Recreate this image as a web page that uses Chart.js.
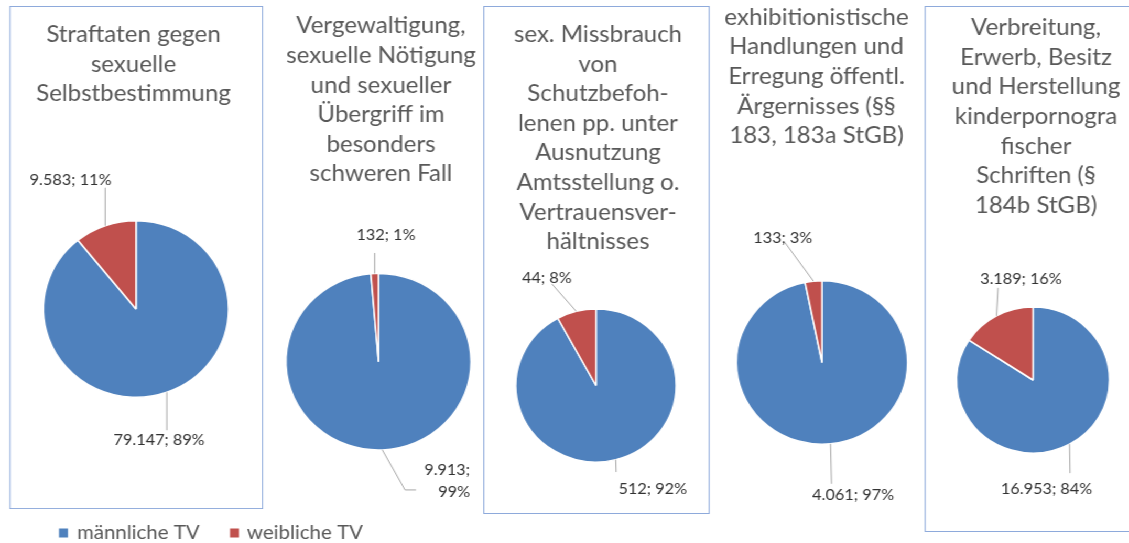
<!DOCTYPE html>
<html lang="de">
<head>
<meta charset="utf-8">
<title>Tatverdächtige nach Geschlecht</title>
<script src="https://cdn.jsdelivr.net/npm/chart.js@4.4.1/dist/chart.umd.min.js"></script>
<style>
  html, body { margin: 0; padding: 0; background: #fff; overflow: hidden; }
  /* the source picture is slightly wider than tall, so the whole stage is stretched a bit */
  #stage { position: relative; width: 1077px; height: 543px; transform: scaleX(1.0483); transform-origin: 0 0; }
  #stage canvas { position: absolute; left: 0; top: 0; }
  .frame { position: absolute; border: 1px solid #8eaadb; box-sizing: border-box; }
</style>
</head>
<body>
<div id="stage"></div>
<script>
// ---- data ----
const seriesNames = ['männliche TV', 'weibliche TV'];
const titles = [
    ['Straftaten gegen', 'sexuelle', 'Selbstbestimmung'],
    ['Vergewaltigung,', 'sexuelle Nötigung', 'und sexueller', 'Übergriff im', 'besonders', 'schweren Fall'],
    ['sex. Missbrauch', 'von', 'Schutzbefoh-', 'lenen pp. unter', 'Ausnutzung', 'Amtsstellung o.', 'Vertrauensver-', 'hältnisses'],
    ['exhibitionistische', 'Handlungen und', 'Erregung öffentl.', 'Ärgernisses (§§', '183, 183a StGB)'],
    ['Verbreitung,', 'Erwerb, Besitz', 'und Herstellung', 'kinderpornogra', 'fischer', 'Schriften (§', '184b StGB)']
];
const maleTV = [79147, 9913, 512, 4061, 16953];
const femaleTV = [9583, 132, 44, 133, 3189];
const colors = ['#4f81bd', '#c0504d'];

// ---- layout (picture pixels, x is divided by SX) ----
const W = 1077, H = 543;
const SX = 1129 / W;

const pies = [
    {cx: 136, cy: 309, r: 88.3, tx: 133.5, ty: 34.6},
    {cx: 378.5, cy: 361.7, r: 88.3, tx: 381, ty: 26},
    {cx: 596, cy: 385.5, r: 76.5, tx: 598, ty: 34.6},
    {cx: 822, cy: 362.5, r: 81.7, tx: 816.5, ty: 17.3},
    {cx: 1033, cy: 380, r: 73, tx: 1036, ty: 27.7}
];

// leader line points and text position, relative to the slice edge at mid angle
const labelSpots = [
    [{lead: [[0, 38]], text: [-7.7, 48]}, {lead: [[0, -38]], text: [-34.6, -46]}],
    [{lead: [[22.7, 40], [33.7, 40]], text: [87.7, 20], align: 'right', split: true}, {lead: [[0, -20.5]], text: [11.3, -38.5]}],
    [{lead: [[0.4, 12.4]], text: [37, 29.4]}, {lead: [[-24.4, -27.4]], text: [-29.4, -33.4]}],
    [{lead: [[1, 40]], text: [22.6, 51.7]}, {lead: [[-28.6, -38.7]], text: [-30.6, -43.7]}],
    [{lead: [[0.5, 29]], text: [-23, 44.8]}, {lead: [[1.5, -28]], text: [24.5, -36.8]}]
];

const frames = [
    {x1: 9.5, y1: 6, x2: 263.5, y2: 509},
    {x1: 483, y1: 6, x2: 709.5, y2: 514},
    {x1: 925, y1: 6, x2: 1140, y2: 532}
];

function formatNumber(v) {
    return String(v).replace(/\B(?=(\d{3})+(?!\d))/g, '.');
}

const stage = document.getElementById('stage');

frames.forEach(f => {
    const d = document.createElement('div');
    d.className = 'frame';
    d.style.left = (f.x1 / SX) + 'px';
    d.style.top = f.y1 + 'px';
    d.style.width = ((f.x2 - f.x1) / SX) + 'px';
    d.style.height = (f.y2 - f.y1) + 'px';
    stage.appendChild(d);
});

// titles, data labels with leader lines, and the shared legend
const panelText = {
    id: 'panelText',
    afterDraw(chart, args, opts) {
        const ctx = chart.ctx;
        ctx.save();

        ctx.fillStyle = '#595959';
        ctx.font = '23px Lato';
        ctx.textAlign = 'center';
        ctx.textBaseline = 'middle';
        opts.title.forEach((line, k) => {
            ctx.fillText(line, opts.tx / SX, opts.ty + k * 29.6);
        });

        const meta = chart.getDatasetMeta(0);
        const values = chart.data.datasets[0].data;
        const total = values.reduce((a, b) => a + b, 0);
        ctx.font = '15.5px Lato';
        meta.data.forEach((arc, i) => {
            const p = arc.getProps(['x', 'y', 'startAngle', 'endAngle', 'outerRadius'], true);
            const mid = (p.startAngle + p.endAngle) / 2;
            const ex = p.x + Math.cos(mid) * p.outerRadius;
            const ey = p.y + Math.sin(mid) * p.outerRadius;
            const spot = opts.spots[i];

            ctx.beginPath();
            ctx.moveTo(ex, ey);
            spot.lead.forEach(q => ctx.lineTo(ex + q[0] / SX, ey + q[1]));
            ctx.strokeStyle = '#a6a6a6';
            ctx.lineWidth = 1;
            ctx.stroke();

            const num = formatNumber(values[i]);
            const pct = Math.round(values[i] / total * 100) + '%';
            const lines = spot.split ? [num + ';', pct] : [num + '; ' + pct];
            ctx.fillStyle = '#333333';
            ctx.textAlign = spot.align || 'center';
            lines.forEach((t, k) => {
                ctx.fillText(t, ex + spot.text[0] / SX, ey + spot.text[1] + k * 22);
            });
        });

        if (opts.legend) {
            const items = [{box: 59, text: 77}, {box: 230, text: 247}];
            ctx.font = '19.5px Lato';
            ctx.textAlign = 'left';
            chart.data.labels.forEach((name, i) => {
                ctx.fillStyle = colors[i];
                ctx.fillRect(items[i].box / SX, 528.5, 9 / SX, 9);
                ctx.fillStyle = '#595959';
                ctx.fillText(name, items[i].text / SX, 533);
            });
        }
        ctx.restore();
    }
};

pies.forEach((pie, n) => {
    const canvas = document.createElement('canvas');
    canvas.width = W;
    canvas.height = H;
    canvas.style.width = W + 'px';
    canvas.style.height = H + 'px';
    stage.appendChild(canvas);

    const cx = pie.cx / SX;
    new Chart(canvas, {
        type: 'pie',
        data: {
            labels: seriesNames,
            datasets: [{
                data: [maleTV[n], femaleTV[n]],
                backgroundColor: colors,
                borderColor: '#ffffff',
                borderWidth: 1.5,
                radius: pie.r
            }]
        },
        options: {
            responsive: false,
            animation: false,
            events: [],
            layout: {
                padding: {
                    left: cx - pie.r,
                    right: W - cx - pie.r,
                    top: pie.cy - pie.r,
                    bottom: H - pie.cy - pie.r
                }
            },
            plugins: {
                legend: { display: false },
                tooltip: { enabled: false },
                panelText: {
                    title: titles[n],
                    tx: pie.tx,
                    ty: pie.ty,
                    spots: labelSpots[n],
                    legend: n === 0
                }
            }
        },
        plugins: [panelText]
    });
});
</script>
</body>
</html>
